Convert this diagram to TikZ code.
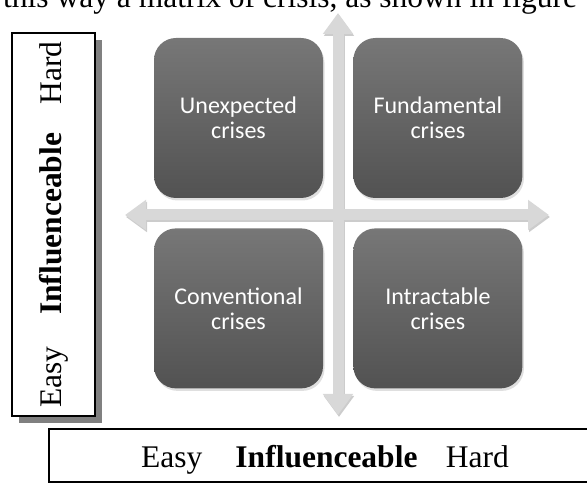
\documentclass[tikz,border=0pt]{standalone}
\usepackage{fontspec}
\setmainfont{Liberation Serif}
\newfontfamily\cellfont{Carlito}
\usetikzlibrary{arrows.meta, positioning, shadows}
\definecolor{celltop}{HTML}{777777}
\definecolor{cellbot}{HTML}{525252}
\definecolor{axisgray}{HTML}{D8D8D8}
\tikzset{%
    cellsty/.style={
        rounded corners=22pt,
        top color=celltop,
        bottom color=cellbot,
        text=white,
        align=center,
        inner sep=0pt,
        minimum width=169pt,
        minimum height=160pt,
        font=\cellfont\fontsize{24}{25}\selectfont,
        drop shadow={shadow xshift=1.5pt, shadow yshift=-2.5pt, opacity=0.25},
    },
    axissty/.style={
        draw=axisgray,
        line width=11pt,
        {Triangle[width=29pt,length=21pt]}-{Triangle[width=29pt,length=21pt]},
    },
    labsty/.style={
        draw,
        line width=1.4pt,
        fill=white,
        inner sep=0pt,
        font=\fontsize{31.5}{36}\selectfont,
    },
}

\begin{document}
\begin{tikzpicture}[x=1pt,y=1pt]
\useasboundingbox (0,0) rectangle (587,484);
\clip (0,0) rectangle (587,484);

% running text of the page
\node (txt) [anchor=base west, inner sep=0pt, font=\fontsize{31.5}{36}\selectfont] at (3,476)
    {this way a matrix of crisis, as shown in figure};

% crisis nodes
\node (unexp) [cellsty] at (238.5,366) {Unexpected\\crises};
\node (fund) [cellsty,right=30pt of unexp] {Fundamental\\crises};
\node (conv) [cellsty,below=30pt of unexp] {Conventional\\crises};
\node (intr) [cellsty,right=30pt of conv] {Intractable\\crises};

% axes
\coordinate (up) at (338,471);
\coordinate (down) at (338,69);
\coordinate (lt) at (125,269);
\coordinate (rt) at (549,269);
\draw[axissty,draw=black!20,transform canvas={shift={(1pt,-2pt)}}] (down) -- (up);
\draw[axissty,draw=black!20,transform canvas={shift={(1pt,-2pt)}}] (lt) -- (rt);
\draw[axissty] (down) -- (up);
\draw[axissty] (lt) -- (rt);

% influenceable boxes
\node (vlab) [labsty,minimum width=83pt,minimum height=383pt,
    general shadow={shadow xshift=7pt,shadow yshift=-7pt,fill=black!50}] at (53.5,259.5)
    {\rotatebox{90}{Easy\hspace{1em}\textbf{Influenceable}\hspace{0.9em}Hard}};
\node (hlab) [labsty,minimum width=552pt,minimum height=53pt,text height=24pt,text depth=0pt] at (325,28.5)
    {Easy\hspace{1.05em}\textbf{Influenceable}\hspace{0.9em}Hard};

\end{tikzpicture}
\end{document}
